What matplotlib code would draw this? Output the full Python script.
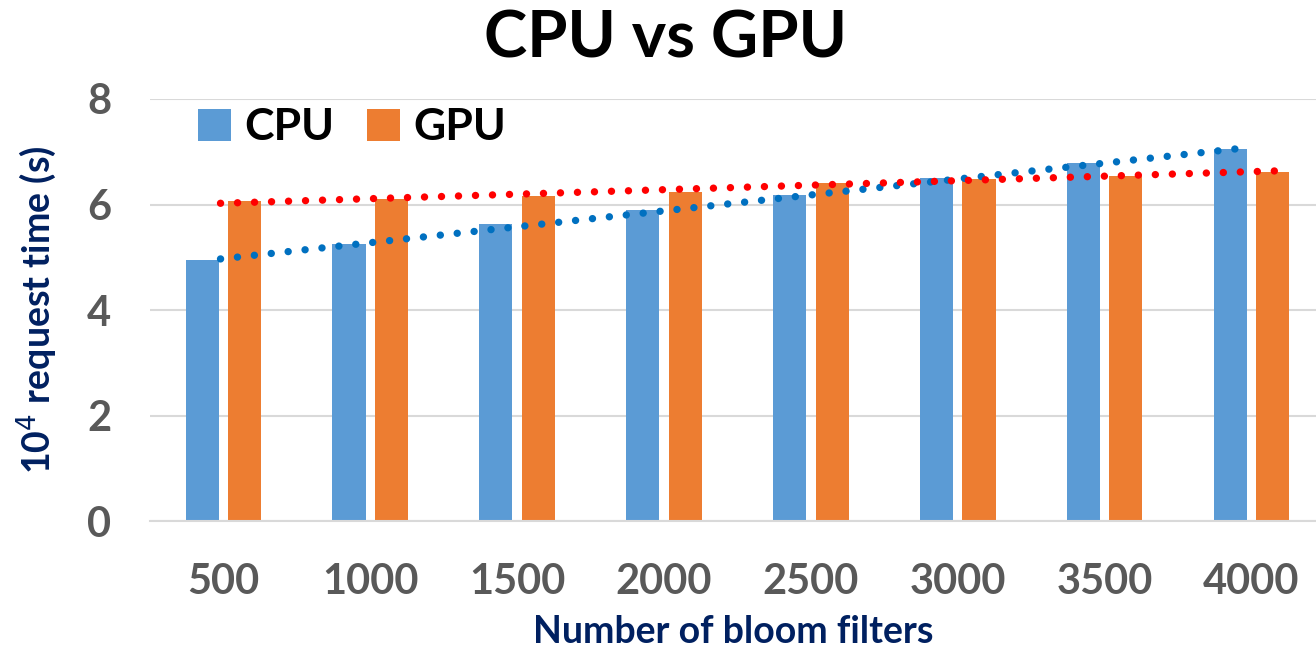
import matplotlib.pyplot as plt
import numpy as np

plt.rcParams['font.family'] = ['Lato', 'DejaVu Sans']

# values
filters = ['500', '1000', '1500', '2000', '2500', '3000', '3500', '4000']
cpu = [4.94, 5.25, 5.63, 5.90, 6.18, 6.51, 6.78, 7.05]
gpu = [6.06, 6.10, 6.16, 6.24, 6.40, 6.48, 6.54, 6.61]

fig = plt.figure(figsize=(13.16, 6.47), dpi=100)
ax = fig.add_axes([0.114, 0.1947, 0.886, 0.6523])

x = np.arange(len(filters))
w = 0.225
off = 0.145
ax.bar(x - off, cpu, w, color='#5B9BD5', label='CPU', zorder=2)
ax.bar(x + off, gpu, w, color='#ED7D31', label='GPU', zorder=2)

# linear trendlines (dotted), fitted to each series
for vals, col, xend in [(cpu, '#0070C0', 7.0), (gpu, '#FF0000', 7.2)]:
    k, b = np.polyfit(x, vals, 1)
    xs = np.array([-0.02, xend])
    ax.plot(xs, k * xs + b, color=col, linestyle=(0, (0.01, 2.3)),
            linewidth=5.3, dash_capstyle='round', zorder=3)

ax.set_xlim(-0.5, 7.44)
ax.set_ylim(0, 8)
ax.set_yticks([0, 2, 4, 6, 8])
ax.set_xticks(x)
ax.set_xticklabels(filters)
ax.tick_params(axis='both', length=0, labelsize=30, labelcolor='#595959')
ax.tick_params(axis='x', pad=30)
ax.tick_params(axis='y', pad=28)
for lab in ax.get_xticklabels() + ax.get_yticklabels():
    lab.set_fontweight('bold')

ax.grid(axis='y', color='#D9D9D9', linewidth=1.5, zorder=0)
ax.set_axisbelow(True)
for s in ['top', 'right', 'left']:
    ax.spines[s].set_visible(False)
ax.spines['bottom'].set_color('#D9D9D9')
ax.spines['bottom'].set_linewidth(1.5)

ax.set_xlabel('Number of bloom filters', fontsize=27, fontweight='bold',
              color='#002060', labelpad=10)
ax.set_ylabel('10$^{4}$ request time (s)', fontsize=27, fontweight='bold',
              color='#002060', labelpad=20)

fig.suptitle('CPU vs GPU', fontsize=47, fontweight='bold', x=0.506, y=0.985)

ax.legend(loc='upper left', bbox_to_anchor=(0.007, 1.075), ncol=2, frameon=False,
          handlelength=0.73, handleheight=0.73, handletextpad=0.3,
          columnspacing=0.75, prop={'weight': 'bold', 'size': 32})

fig.savefig('out.png', dpi=100)
